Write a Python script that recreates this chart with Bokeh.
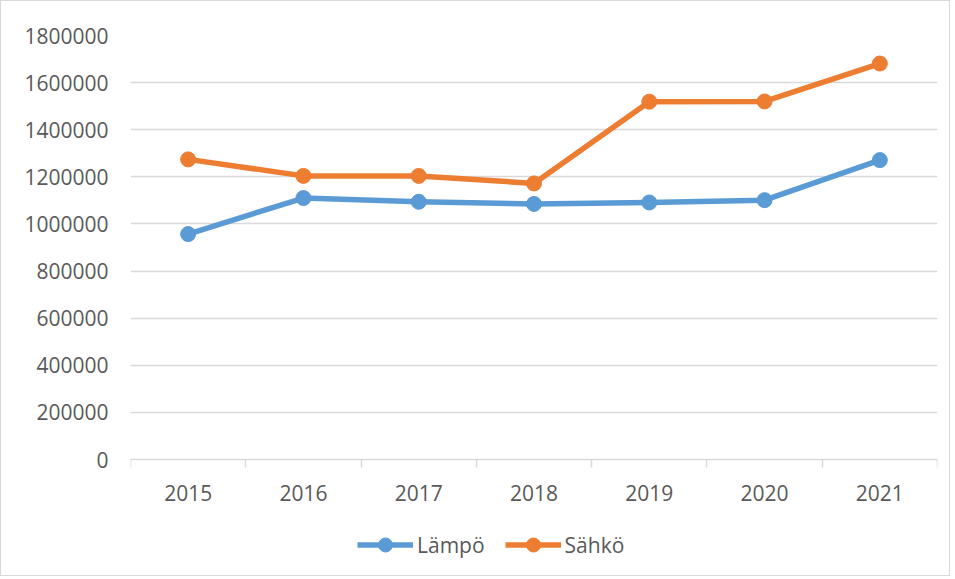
from bokeh.plotting import figure
from bokeh.models import FixedTicker, Range1d, Legend, LegendItem, NumeralTickFormatter
from bokeh.embed import file_html
from bokeh.resources import INLINE

years = [2015, 2016, 2017, 2018, 2019, 2020, 2021]
lampo = [957000, 1110000, 1094000, 1085000, 1091000, 1101000, 1271000]
sahko = [1274000, 1204000, 1204000, 1172000, 1519000, 1520000, 1681000]
y_ticks = [0, 200000, 400000, 600000, 800000, 1000000, 1200000, 1400000, 1600000, 1800000]

BLUE = "#5B9BD5"
ORANGE = "#ED7D31"
GRID = "#D9D9D9"
TXT = "#595959"
FONT = "Open Sans"

# plot area: 424 px for the value span, plus 112 px below zero for axis labels and legend
PLOT_H = 424
BELOW_H = 112
y_top = y_ticks[-1]
y_bottom = -y_top * BELOW_H / PLOT_H

p = figure(frame_width=807, frame_height=PLOT_H + BELOW_H, output_backend="svg", toolbar_location=None,
           x_range=Range1d(years[0] - 0.5, years[-1] + 0.5),
           y_range=Range1d(y_bottom, y_top),
           min_border_left=129, min_border_right=12, min_border_top=34, min_border_bottom=4)
p.outline_line_color = None
p.styles = {"border": "1px solid #D9D9D9"}

# x axis, drawn at value 0
p.xaxis.fixed_location = 0
p.xaxis.ticker = FixedTicker(ticks=years, minor_ticks=[y - 0.5 for y in years] + [years[-1] + 0.5])
p.xaxis.major_tick_line_color = None
p.xaxis.major_tick_out = 0
p.xaxis.major_tick_in = 0
p.xaxis.minor_tick_line_color = GRID
p.xaxis.minor_tick_line_width = 1.5
p.xaxis.minor_tick_out = 8
p.xaxis.minor_tick_in = 0
p.xaxis.axis_line_color = GRID
p.xaxis.axis_line_width = 1.5
p.xaxis.major_label_standoff = 17
p.xaxis.major_label_text_font = FONT
p.xaxis.major_label_text_font_size = "21px"
p.xaxis.major_label_text_color = TXT
p.xgrid.grid_line_color = None

# y axis
p.yaxis.ticker = FixedTicker(ticks=y_ticks)
p.yaxis.formatter = NumeralTickFormatter(format="0")
p.yaxis.axis_line_color = None
p.yaxis.major_tick_line_color = None
p.yaxis.minor_tick_line_color = None
p.yaxis.major_tick_out = 0
p.yaxis.major_label_standoff = 22
p.yaxis.major_label_text_font = FONT
p.yaxis.major_label_text_font_size = "21px"
p.yaxis.major_label_text_color = TXT
p.ygrid.grid_line_color = GRID
p.ygrid.grid_line_width = 1.5
p.ygrid.ticker = FixedTicker(ticks=y_ticks[1:])

l1 = p.line(years, lampo, line_color=BLUE, line_width=5.5, line_join="round")
m1 = p.scatter(years, lampo, size=15, fill_color=BLUE, line_color=BLUE)
l2 = p.line(years, sahko, line_color=ORANGE, line_width=5.5, line_join="round")
m2 = p.scatter(years, sahko, size=15, fill_color=ORANGE, line_color=ORANGE)

legend = Legend(items=[LegendItem(label="Lämpö", renderers=[l1, m1]),
                       LegendItem(label="Sähkö", renderers=[l2, m2])],
                orientation="horizontal", location=(227, 9),
                glyph_width=56, glyph_height=35, label_standoff=4, spacing=20,
                border_line_color=None, background_fill_alpha=0,
                label_text_font=FONT, label_text_font_size="21px", label_text_color=TXT,
                margin=0, padding=0)
p.add_layout(legend, "center")

open("out.html", "w").write(file_html(p, INLINE))
